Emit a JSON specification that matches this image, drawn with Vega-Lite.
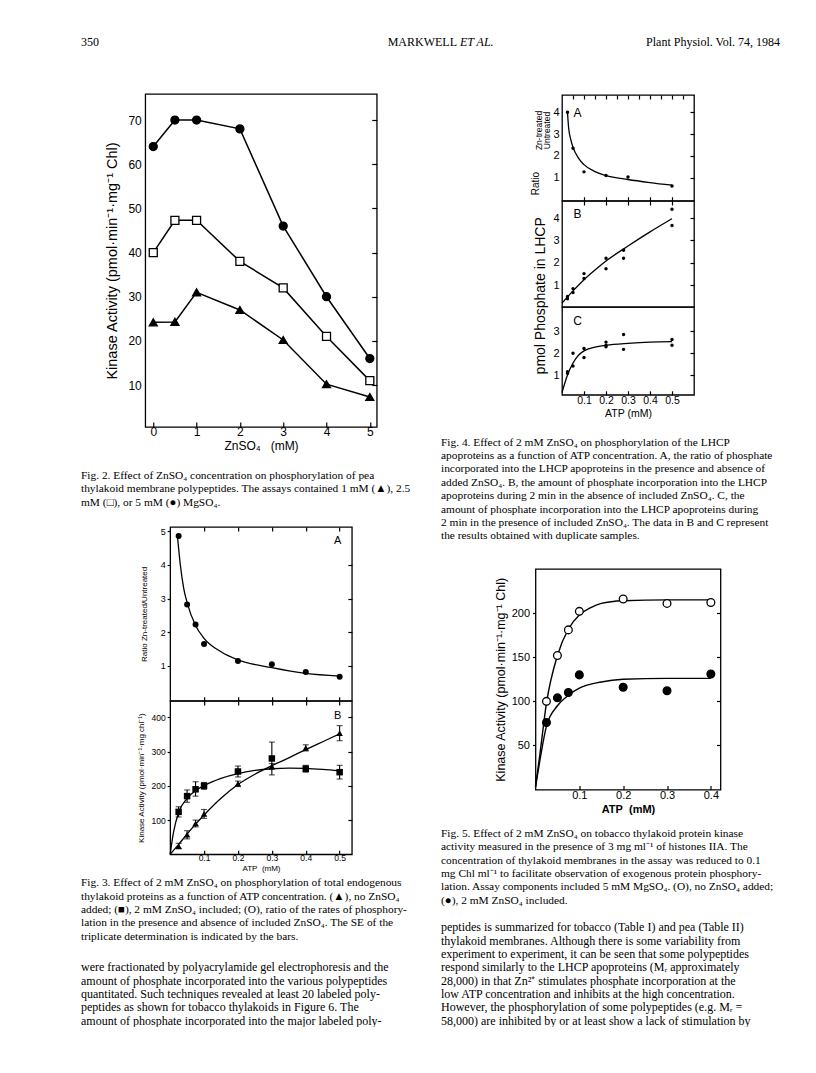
{
  "$schema": "https://vega.github.io/schema/vega-lite/v6.json",
  "background": "white",
  "padding": {"left": 81, "top": 30, "right": 0, "bottom": 0},
  "spacing": 0,
  "datasets": {
    "header": [
      {"part": "l", "label": "350"},
      {"part": "c", "label": "MARKWELL"},
      {"part": "c", "label": "ET AL."},
      {"part": "r", "label": "Plant Physiol. Vol. 74, 1984"}
    ],
    "fig2": [
      {"zn": 0, "act": 64, "mg": "5 mM"}, {"zn": 0.5, "act": 70, "mg": "5 mM"}, {"zn": 1, "act": 70, "mg": "5 mM"}, {"zn": 2, "act": 68, "mg": "5 mM"}, {"zn": 3, "act": 46, "mg": "5 mM"}, {"zn": 4, "act": 30, "mg": "5 mM"}, {"zn": 5, "act": 16, "mg": "5 mM"},
      {"zn": 0, "act": 40, "mg": "2.5 mM"}, {"zn": 0.5, "act": 47.3, "mg": "2.5 mM"}, {"zn": 1, "act": 47.3, "mg": "2.5 mM"}, {"zn": 2, "act": 38, "mg": "2.5 mM"}, {"zn": 3, "act": 32, "mg": "2.5 mM"}, {"zn": 4, "act": 21, "mg": "2.5 mM"}, {"zn": 5, "act": 11, "mg": "2.5 mM"},
      {"zn": 0, "act": 24.2, "mg": "1 mM"}, {"zn": 0.5, "act": 24.3, "mg": "1 mM"}, {"zn": 1, "act": 31, "mg": "1 mM"}, {"zn": 2, "act": 27, "mg": "1 mM"}, {"zn": 3, "act": 20.2, "mg": "1 mM"}, {"zn": 4, "act": 10.2, "mg": "1 mM"}, {"zn": 5, "act": 7.3, "mg": "1 mM"}
    ],
    "fig3a_pts": [
      {"atp": 0.025, "ratio": 4.85}, {"atp": 0.05, "ratio": 2.82}, {"atp": 0.075, "ratio": 2.23}, {"atp": 0.1, "ratio": 1.65},
      {"atp": 0.2, "ratio": 1.15}, {"atp": 0.3, "ratio": 1.05}, {"atp": 0.4, "ratio": 0.82}, {"atp": 0.5, "ratio": 0.68}
    ],
    "fig3a_fit": [
      {"atp": 0.022, "ratio": 4.8}, {"atp": 0.03, "ratio": 4.0}, {"atp": 0.04, "ratio": 3.3}, {"atp": 0.05, "ratio": 2.88},
      {"atp": 0.075, "ratio": 2.2}, {"atp": 0.1, "ratio": 1.82}, {"atp": 0.15, "ratio": 1.42}, {"atp": 0.2, "ratio": 1.18},
      {"atp": 0.3, "ratio": 0.95}, {"atp": 0.4, "ratio": 0.78}, {"atp": 0.5, "ratio": 0.7}
    ],
    "fig3b_pts": [
      {"atp": 0.025, "act": 24, "lo": 16, "hi": 32, "zn": "no ZnSO4"}, {"atp": 0.05, "act": 57, "lo": 45, "hi": 69, "zn": "no ZnSO4"},
      {"atp": 0.075, "act": 90, "lo": 80, "hi": 100, "zn": "no ZnSO4"}, {"atp": 0.1, "act": 118, "lo": 105, "hi": 131, "zn": "no ZnSO4"},
      {"atp": 0.2, "act": 206, "lo": 198, "hi": 214, "zn": "no ZnSO4"}, {"atp": 0.3, "act": 257, "lo": 249, "hi": 265, "zn": "no ZnSO4"},
      {"atp": 0.4, "act": 311, "lo": 302, "hi": 320, "zn": "no ZnSO4"}, {"atp": 0.5, "act": 354, "lo": 332, "hi": 376, "zn": "no ZnSO4"},
      {"atp": 0.025, "act": 124, "lo": 109, "hi": 139, "zn": "2 mM ZnSO4"}, {"atp": 0.05, "act": 170, "lo": 152, "hi": 188, "zn": "2 mM ZnSO4"},
      {"atp": 0.075, "act": 190, "lo": 170, "hi": 212, "zn": "2 mM ZnSO4"}, {"atp": 0.1, "act": 200, "lo": 190, "hi": 210, "zn": "2 mM ZnSO4"},
      {"atp": 0.2, "act": 242, "lo": 226, "hi": 258, "zn": "2 mM ZnSO4"}, {"atp": 0.3, "act": 280, "lo": 232, "hi": 328, "zn": "2 mM ZnSO4"},
      {"atp": 0.4, "act": 250, "lo": 240, "hi": 260, "zn": "2 mM ZnSO4"}, {"atp": 0.5, "act": 240, "lo": 220, "hi": 260, "zn": "2 mM ZnSO4"}
    ],
    "fig3b_fit": [
      {"atp": 0, "act": 0, "zn": "2 mM ZnSO4"}, {"atp": 0.01, "act": 65, "zn": "2 mM ZnSO4"}, {"atp": 0.025, "act": 122, "zn": "2 mM ZnSO4"}, {"atp": 0.05, "act": 163, "zn": "2 mM ZnSO4"},
      {"atp": 0.075, "act": 186, "zn": "2 mM ZnSO4"}, {"atp": 0.1, "act": 201, "zn": "2 mM ZnSO4"}, {"atp": 0.15, "act": 222, "zn": "2 mM ZnSO4"}, {"atp": 0.2, "act": 236, "zn": "2 mM ZnSO4"},
      {"atp": 0.25, "act": 245, "zn": "2 mM ZnSO4"}, {"atp": 0.3, "act": 250, "zn": "2 mM ZnSO4"}, {"atp": 0.35, "act": 252, "zn": "2 mM ZnSO4"}, {"atp": 0.4, "act": 251, "zn": "2 mM ZnSO4"},
      {"atp": 0.45, "act": 248, "zn": "2 mM ZnSO4"}, {"atp": 0.5, "act": 244, "zn": "2 mM ZnSO4"},
      {"atp": 0, "act": 0, "zn": "no ZnSO4"}, {"atp": 0.025, "act": 29, "zn": "no ZnSO4"}, {"atp": 0.05, "act": 59, "zn": "no ZnSO4"}, {"atp": 0.075, "act": 88, "zn": "no ZnSO4"},
      {"atp": 0.1, "act": 115, "zn": "no ZnSO4"}, {"atp": 0.15, "act": 164, "zn": "no ZnSO4"}, {"atp": 0.2, "act": 204, "zn": "no ZnSO4"}, {"atp": 0.25, "act": 234, "zn": "no ZnSO4"},
      {"atp": 0.3, "act": 259, "zn": "no ZnSO4"}, {"atp": 0.35, "act": 282, "zn": "no ZnSO4"}, {"atp": 0.4, "act": 306, "zn": "no ZnSO4"}, {"atp": 0.45, "act": 329, "zn": "no ZnSO4"},
      {"atp": 0.5, "act": 352, "zn": "no ZnSO4"}
    ],
    "fig4a_pts": [
      {"atp": 0.025, "v": 4.0}, {"atp": 0.05, "v": 2.35}, {"atp": 0.1, "v": 1.27}, {"atp": 0.2, "v": 1.1}, {"atp": 0.3, "v": 1.04}, {"atp": 0.5, "v": 0.62}
    ],
    "fig4a_fit": [
      {"atp": 0.025, "v": 4.0}, {"atp": 0.03, "v": 3.3}, {"atp": 0.04, "v": 2.75}, {"atp": 0.05, "v": 2.4}, {"atp": 0.075, "v": 1.9},
      {"atp": 0.1, "v": 1.6}, {"atp": 0.15, "v": 1.28}, {"atp": 0.2, "v": 1.1}, {"atp": 0.3, "v": 0.92}, {"atp": 0.4, "v": 0.78}, {"atp": 0.5, "v": 0.66}
    ],
    "fig4b_pts": [
      {"atp": 0.025, "v": 0.4}, {"atp": 0.025, "v": 0.5}, {"atp": 0.05, "v": 0.85}, {"atp": 0.05, "v": 0.68},
      {"atp": 0.1, "v": 1.52}, {"atp": 0.1, "v": 1.3}, {"atp": 0.2, "v": 2.21}, {"atp": 0.2, "v": 1.74},
      {"atp": 0.28, "v": 2.56}, {"atp": 0.28, "v": 2.21}, {"atp": 0.5, "v": 4.39}, {"atp": 0.5, "v": 3.67}
    ],
    "fig4b_fit": [
      {"atp": 0, "v": 0.2}, {"atp": 0.025, "v": 0.48}, {"atp": 0.05, "v": 0.75}, {"atp": 0.1, "v": 1.25}, {"atp": 0.15, "v": 1.68},
      {"atp": 0.2, "v": 2.08}, {"atp": 0.3, "v": 2.75}, {"atp": 0.4, "v": 3.38}, {"atp": 0.5, "v": 3.97}
    ],
    "fig4c_pts": [
      {"atp": 0.025, "v": 1.15}, {"atp": 0.025, "v": 1.08}, {"atp": 0.05, "v": 1.99}, {"atp": 0.05, "v": 1.41},
      {"atp": 0.1, "v": 2.21}, {"atp": 0.1, "v": 1.8}, {"atp": 0.2, "v": 2.5}, {"atp": 0.2, "v": 2.36}, {"atp": 0.2, "v": 2.29},
      {"atp": 0.28, "v": 2.85}, {"atp": 0.28, "v": 2.17}, {"atp": 0.5, "v": 2.62}, {"atp": 0.5, "v": 2.36}
    ],
    "fig4c_fit": [
      {"atp": 0, "v": 0.2}, {"atp": 0.025, "v": 1.0}, {"atp": 0.05, "v": 1.55}, {"atp": 0.075, "v": 1.9}, {"atp": 0.1, "v": 2.1},
      {"atp": 0.15, "v": 2.27}, {"atp": 0.2, "v": 2.35}, {"atp": 0.3, "v": 2.44}, {"atp": 0.4, "v": 2.5}, {"atp": 0.5, "v": 2.52}
    ],
    "fig5_pts": [
      {"atp": 0.025, "act": 100, "zn": "no ZnSO4"}, {"atp": 0.05, "act": 152, "zn": "no ZnSO4"}, {"atp": 0.075, "act": 181, "zn": "no ZnSO4"}, {"atp": 0.1, "act": 202, "zn": "no ZnSO4"},
      {"atp": 0.2, "act": 216, "zn": "no ZnSO4"}, {"atp": 0.3, "act": 211, "zn": "no ZnSO4"}, {"atp": 0.4, "act": 212, "zn": "no ZnSO4"},
      {"atp": 0.025, "act": 76, "zn": "2 mM ZnSO4"}, {"atp": 0.05, "act": 104, "zn": "2 mM ZnSO4"}, {"atp": 0.075, "act": 110, "zn": "2 mM ZnSO4"}, {"atp": 0.1, "act": 130, "zn": "2 mM ZnSO4"},
      {"atp": 0.2, "act": 116, "zn": "2 mM ZnSO4"}, {"atp": 0.3, "act": 112, "zn": "2 mM ZnSO4"}, {"atp": 0.4, "act": 131, "zn": "2 mM ZnSO4"}
    ],
    "fig5_fit": [
      {"atp": 0, "act": 3, "zn": "no ZnSO4"}, {"atp": 0.01, "act": 40, "zn": "no ZnSO4"}, {"atp": 0.025, "act": 98, "zn": "no ZnSO4"}, {"atp": 0.05, "act": 152, "zn": "no ZnSO4"},
      {"atp": 0.075, "act": 182, "zn": "no ZnSO4"}, {"atp": 0.1, "act": 198, "zn": "no ZnSO4"}, {"atp": 0.125, "act": 206, "zn": "no ZnSO4"}, {"atp": 0.15, "act": 211, "zn": "no ZnSO4"},
      {"atp": 0.2, "act": 214, "zn": "no ZnSO4"}, {"atp": 0.3, "act": 215, "zn": "no ZnSO4"}, {"atp": 0.4, "act": 215, "zn": "no ZnSO4"},
      {"atp": 0, "act": 3, "zn": "2 mM ZnSO4"}, {"atp": 0.01, "act": 33, "zn": "2 mM ZnSO4"}, {"atp": 0.025, "act": 72, "zn": "2 mM ZnSO4"}, {"atp": 0.05, "act": 95, "zn": "2 mM ZnSO4"},
      {"atp": 0.075, "act": 107, "zn": "2 mM ZnSO4"}, {"atp": 0.1, "act": 115, "zn": "2 mM ZnSO4"}, {"atp": 0.15, "act": 122, "zn": "2 mM ZnSO4"}, {"atp": 0.2, "act": 125, "zn": "2 mM ZnSO4"},
      {"atp": 0.3, "act": 126, "zn": "2 mM ZnSO4"}, {"atp": 0.4, "act": 126, "zn": "2 mM ZnSO4"}
    ]
  },
  "vconcat": [
    {
      "width": 699, "height": 24,
      "data": {"name": "header"},
      "encoding": {"x": {"field": "part", "type": "nominal", "scale": {"type": "point", "domain": ["l", "c", "r"], "padding": 0}, "axis": null}},
      "layer": [
        {"transform": [{"filter": "datum.label === '350'"}], "mark": {"type": "text", "align": "left", "baseline": "middle", "font": "Liberation Serif", "fontSize": 12, "color": "black"}, "encoding": {"text": {"field": "label"}}},
        {"transform": [{"filter": "datum.label === 'MARKWELL'"}], "mark": {"type": "text", "align": "right", "baseline": "middle", "font": "Liberation Serif", "fontSize": 12, "dx": 26.5, "color": "black"}, "encoding": {"text": {"field": "label"}}},
        {"transform": [{"filter": "datum.label === 'ET AL.'"}], "mark": {"type": "text", "align": "left", "baseline": "middle", "font": "Liberation Serif", "fontStyle": "italic", "fontSize": 12, "dx": 29.5, "color": "black"}, "encoding": {"text": {"field": "label"}}},
        {"transform": [{"filter": "datum.part === 'r'"}], "mark": {"type": "text", "align": "right", "baseline": "middle", "font": "Liberation Serif", "fontSize": 12, "color": "black"}, "encoding": {"text": {"field": "label"}}}
      ]
    },
    {
      "spacing": 0,
      "hconcat": [
        {
          "spacing": 0,
          "bounds": "flush",
          "center": true,
          "vconcat": [
            {"width": 360, "height": 40, "data": {"values": [{}]}, "mark": {"type": "text", "text": ""}},
            {
              "width": 231.5, "height": 333,
              "view": {"stroke": "black", "strokeWidth": 1.3},
              "data": {"name": "fig2"},
              "layer": [
                {"mark": {"type": "line", "color": "black", "strokeWidth": 1.5},
                 "encoding": {
                   "x": {"field": "zn", "type": "quantitative", "scale": {"domain": [-0.185, 5.16], "nice": false, "zero": false},
                         "axis": {"orient": "bottom", "values": [0, 1, 2, 3, 4, 5], "format": "d", "tickSize": -5, "labelFontSize": 12, "labelPadding": 4, "title": "ZnSO₄\u00a0\u00a0\u00a0(mM)", "titleFontSize": 12, "titlePadding": 3}},
                   "y": {"field": "act", "type": "quantitative", "scale": {"domain": [0.5, 75.9], "nice": false, "zero": false},
                         "axis": {"orient": "left", "values": [10, 20, 30, 40, 50, 60, 70], "tickSize": 0, "labelFontSize": 12, "labelPadding": 4, "title": "Kinase Activity (pmol·min⁻¹·mg⁻¹ Chl)", "titleFontSize": 14.5, "titlePadding": 8}},
                   "detail": {"field": "mg", "type": "nominal"}}},
                {"mark": {"type": "point", "filled": true, "stroke": "black", "strokeWidth": 1.3, "size": 64, "opacity": 1},
                 "encoding": {
                   "x": {"field": "zn", "type": "quantitative", "scale": {"domain": [-0.185, 5.16], "nice": false, "zero": false}, "axis": null},
                   "y": {"field": "act", "type": "quantitative", "scale": {"domain": [0.5, 75.9], "nice": false, "zero": false}, "axis": null},
                   "shape": {"field": "mg", "type": "nominal", "scale": {"domain": ["5 mM", "2.5 mM", "1 mM", "no ZnSO4", "2 mM ZnSO4"], "range": ["circle", "square", "triangle-up", "triangle-up", "square"]}, "legend": null},
                   "fill": {"field": "mg", "type": "nominal", "scale": {"domain": ["5 mM", "2.5 mM", "1 mM", "no ZnSO4", "2 mM ZnSO4"], "range": ["black", "white", "black", "white", "black"]}, "legend": null}}},
                {"mark": {"type": "point", "opacity": 0},
                 "encoding": {
                   "x": {"field": "zn", "type": "quantitative", "scale": {"domain": [-0.185, 5.16], "nice": false, "zero": false}, "axis": null},
                   "y": {"field": "act", "type": "quantitative", "scale": {"domain": [0.5, 75.9], "nice": false, "zero": false},
                         "axis": {"orient": "right", "values": [10, 20, 30, 40, 50, 60, 70], "tickSize": -5, "labels": false, "title": null}}}}
              ],
              "resolve": {"axis": {"x": "independent", "y": "independent"}}
            },
            {
              "width": 360, "height": 39,
              "data": {"values": [{}]}, "mark": {"type": "text", "text": ""},
              "title": {"text": [
                "\u00a0\u00a0\u00a0\u00a0Fig. 2. Effect of ZnSO₄ concentration on phosphorylation of pea",
                "thylakoid membrane polypeptides. The assays contained 1 mM (▲), 2.5",
                "mM (□), or 5 mM (●) MgSO₄."
              ]}
            },
            {"width": 360, "height": 61, "data": {"values": [{}]}, "mark": {"type": "text", "text": ""}},
            {
              "width": 181.7, "height": 173.7,
              "view": {"stroke": "black", "strokeWidth": 1.3},
              "layer": [
                {"data": {"name": "fig3a_fit"},
                 "mark": {"type": "line", "color": "black", "strokeWidth": 1.3, "interpolate": "monotone"},
                 "encoding": {
                   "x": {"field": "atp", "type": "quantitative", "scale": {"domain": [0, 0.536], "nice": false, "zero": false},
                         "axis": {"orient": "bottom", "values": [0.1, 0.2, 0.3, 0.4, 0.5], "tickSize": -4, "labels": false, "title": null}},
                   "y": {"field": "ratio", "type": "quantitative", "scale": {"domain": [-0.03, 5.12], "nice": false, "zero": false},
                         "axis": {"orient": "left", "values": [1, 2, 3, 4, 5], "format": "d", "tickSize": 3, "labelFontSize": 9, "labelPadding": 2, "title": "Ratio Zn-treated/Untreated", "titleFontSize": 8, "titlePadding": 12}}}},
                {"data": {"name": "fig3a_pts"},
                 "mark": {"type": "point", "filled": true, "color": "black", "size": 36, "opacity": 1},
                 "encoding": {
                   "x": {"field": "atp", "type": "quantitative", "scale": {"domain": [0, 0.536], "nice": false, "zero": false}, "axis": null},
                   "y": {"field": "ratio", "type": "quantitative", "scale": {"domain": [-0.03, 5.12], "nice": false, "zero": false}, "axis": null}}},
                {"data": {"name": "fig3a_pts"},
                 "mark": {"type": "point", "opacity": 0},
                 "encoding": {
                   "x": {"field": "atp", "type": "quantitative", "scale": {"domain": [0, 0.536], "nice": false, "zero": false},
                         "axis": {"orient": "top", "values": [0.1, 0.2, 0.3, 0.4, 0.5], "tickSize": -4, "labels": false, "title": "A", "titleFontSize": 11, "titleAngle": 0, "titleX": 167, "titleY": 13, "titleAlign": "center", "titleBaseline": "middle"}},
                   "y": {"field": "ratio", "type": "quantitative", "scale": {"domain": [-0.03, 5.12], "nice": false, "zero": false},
                         "axis": {"orient": "right", "values": [1, 2, 3, 4], "tickSize": -4, "labels": false, "title": null}}}}
              ],
              "resolve": {"axis": {"x": "independent", "y": "independent"}}
            },
            {
              "width": 181.7, "height": 153.3,
              "view": {"stroke": "black", "strokeWidth": 1.3},
              "layer": [
                {"data": {"name": "fig3b_fit"},
                 "mark": {"type": "line", "color": "black", "strokeWidth": 1.3, "interpolate": "monotone"},
                 "encoding": {
                   "detail": {"field": "zn", "type": "nominal"},
                   "x": {"field": "atp", "type": "quantitative", "scale": {"domain": [0, 0.536], "nice": false, "zero": false},
                         "axis": {"orient": "bottom", "values": [0.1, 0.2, 0.3, 0.4, 0.5], "format": ".1f", "tickSize": -4, "labelFontSize": 8.5, "labelPadding": 3.5, "title": "ATP\u00a0\u00a0(mM)", "titleFontSize": 8, "titlePadding": 2}},
                   "y": {"field": "act", "type": "quantitative", "scale": {"domain": [0, 448], "nice": false, "zero": false},
                         "axis": {"orient": "left", "values": [100, 200, 300, 400], "tickSize": 3, "labelFontSize": 8.5, "labelPadding": 2, "title": "Kinase Activity (pmol·min⁻¹·mg chl⁻¹)", "titleFontSize": 8, "titlePadding": 5}}}},
                {"data": {"name": "fig3b_pts"},
                 "mark": {"type": "rule", "color": "black", "strokeWidth": 1.1},
                 "encoding": {
                   "x": {"field": "atp", "type": "quantitative", "scale": {"domain": [0, 0.536], "nice": false, "zero": false}, "axis": null},
                   "y": {"field": "lo", "type": "quantitative", "scale": {"domain": [0, 448], "nice": false, "zero": false}, "axis": null},
                   "y2": {"field": "hi"}}},
                {"data": {"name": "fig3b_pts"},
                 "mark": {"type": "tick", "orient": "horizontal", "color": "black", "size": 6, "thickness": 1.1},
                 "encoding": {
                   "x": {"field": "atp", "type": "quantitative", "scale": {"domain": [0, 0.536], "nice": false, "zero": false}, "axis": null},
                   "y": {"field": "hi", "type": "quantitative", "scale": {"domain": [0, 448], "nice": false, "zero": false}, "axis": null}}},
                {"data": {"name": "fig3b_pts"},
                 "mark": {"type": "tick", "orient": "horizontal", "color": "black", "size": 6, "thickness": 1.1},
                 "encoding": {
                   "x": {"field": "atp", "type": "quantitative", "scale": {"domain": [0, 0.536], "nice": false, "zero": false}, "axis": null},
                   "y": {"field": "lo", "type": "quantitative", "scale": {"domain": [0, 448], "nice": false, "zero": false}, "axis": null}}},
                {"data": {"name": "fig3b_pts"},
                 "mark": {"type": "point", "filled": true, "color": "black", "size": 42, "opacity": 1},
                 "encoding": {
                   "x": {"field": "atp", "type": "quantitative", "scale": {"domain": [0, 0.536], "nice": false, "zero": false}, "axis": null},
                   "y": {"field": "act", "type": "quantitative", "scale": {"domain": [0, 448], "nice": false, "zero": false}, "axis": null},
                   "shape": {"field": "zn", "type": "nominal", "scale": {"domain": ["5 mM", "2.5 mM", "1 mM", "no ZnSO4", "2 mM ZnSO4"], "range": ["circle", "square", "triangle-up", "triangle-up", "square"]}, "legend": null}}},
                {"data": {"name": "fig3b_pts"},
                 "mark": {"type": "point", "opacity": 0},
                 "encoding": {
                   "x": {"field": "atp", "type": "quantitative", "scale": {"domain": [0, 0.536], "nice": false, "zero": false},
                         "axis": {"orient": "top", "values": [0.1, 0.2, 0.3, 0.4, 0.5], "tickSize": -4, "labels": false, "title": "B", "titleFontSize": 11, "titleAngle": 0, "titleX": 167, "titleY": 14, "titleAlign": "center", "titleBaseline": "middle"}},
                   "y": {"field": "act", "type": "quantitative", "scale": {"domain": [0, 448], "nice": false, "zero": false},
                         "axis": {"orient": "right", "values": [100, 200, 300, 400], "tickSize": -4, "labels": false, "title": null}}}}
              ],
              "resolve": {"axis": {"x": "independent", "y": "independent"}}
            },
            {
              "width": 360, "height": 18.3,
              "data": {"values": [{}]}, "mark": {"type": "text", "text": ""},
              "title": {"text": [
                "\u00a0\u00a0\u00a0\u00a0Fig. 3. Effect of 2 mM ZnSO₄ on phosphorylation of total endogenous",
                "thylakoid proteins as a function of ATP concentration. (▲), no ZnSO₄",
                "added; (■), 2 mM ZnSO₄ included; (O), ratio of the rates of phosphory-",
                "lation in the presence and absence of included ZnSO₄. The SE of the",
                "triplicate determination is indicated by the bars."
              ]}
            },
            {
              "width": 360, "height": 84.4,
              "data": {"values": [{}]}, "mark": {"type": "text", "text": ""},
              "title": {"fontSize": 12, "text": [
                "were fractionated by polyacrylamide gel electrophoresis and the",
                "amount of phosphate incorporated into the various polypeptides",
                "quantitated. Such techniques revealed at least 20 labeled poly-",
                "peptides as shown for tobacco thylakoids in Figure 6. The",
                "amount of phosphate incorporated into the major labeled poly-"
              ]}
            }
          ]
        },
        {
          "spacing": 0,
          "bounds": "flush",
          "center": true,
          "vconcat": [
            {"width": 374, "height": 41, "data": {"values": [{}]}, "mark": {"type": "text", "text": ""}},
            {
              "width": 132, "height": 105.7,
              "view": {"stroke": "black", "strokeWidth": 1.3},
              "layer": [
                {"data": {"name": "fig4a_fit"},
                 "mark": {"type": "line", "color": "black", "strokeWidth": 1.3, "interpolate": "monotone"},
                 "encoding": {
                   "x": {"field": "atp", "type": "quantitative", "scale": {"domain": [0, 0.6], "nice": false, "zero": false},
                         "axis": {"orient": "bottom", "values": [0.1, 0.2, 0.3, 0.4, 0.5], "tickSize": -4, "labels": false, "title": null}},
                   "y": {"field": "v", "type": "quantitative", "scale": {"domain": [-0.05, 4.79], "nice": false, "zero": false},
                         "axis": {"orient": "left", "values": [1, 2, 3, 4], "format": "d", "tickSize": 0, "labelFontSize": 11, "labelPadding": 3,
                                  "title": ["Zn-treated", "Untreated"],
                                  "titleFontSize": 8.5, "titleLineHeight": 8, "titlePadding": 1.5, "titleY": 35}}}},
                {"data": {"name": "fig4a_pts"},
                 "mark": {"type": "point", "filled": true, "color": "black", "size": 12, "opacity": 1},
                 "encoding": {
                   "x": {"field": "atp", "type": "quantitative", "scale": {"domain": [0, 0.6], "nice": false, "zero": false}, "axis": null},
                   "y": {"field": "v", "type": "quantitative", "scale": {"domain": [-0.05, 4.79], "nice": false, "zero": false}, "axis": null}}},
                {"data": {"name": "fig4a_pts"},
                 "mark": {"type": "point", "opacity": 0},
                 "encoding": {
                   "x": {"field": "atp", "type": "quantitative", "scale": {"domain": [0, 0.6], "nice": false, "zero": false},
                         "axis": {"orient": "top", "values": [0.05, 0.1, 0.15, 0.2, 0.25, 0.3, 0.35, 0.4, 0.45, 0.5, 0.55], "tickSize": -4, "labels": false, "title": "A", "titleFontSize": 12, "titleAngle": 0, "titleX": 15, "titleY": 17, "titleAlign": "center", "titleBaseline": "middle"}},
                   "y": {"field": "v", "type": "quantitative", "scale": {"domain": [-0.05, 4.79], "nice": false, "zero": false},
                         "axis": {"orient": "right", "values": [1, 2, 3, 4], "tickSize": -4, "labels": false,
                                  "title": "Ratio", "titleFontSize": 10, "titleAngle": 270, "titleX": -158.3, "titleY": 88, "titleAlign": "center", "titleBaseline": "middle"}}}}
              ],
              "resolve": {"axis": {"x": "independent", "y": "independent"}}
            },
            {
              "width": 132, "height": 106,
              "view": {"stroke": "black", "strokeWidth": 1.3},
              "layer": [
                {"data": {"name": "fig4b_fit"},
                 "mark": {"type": "line", "color": "black", "strokeWidth": 1.3, "interpolate": "monotone"},
                 "encoding": {
                   "x": {"field": "atp", "type": "quantitative", "scale": {"domain": [0, 0.6], "nice": false, "zero": false}, "axis": null},
                   "y": {"field": "v", "type": "quantitative", "scale": {"domain": [0.03, 4.76], "nice": false, "zero": false},
                         "axis": {"orient": "left", "values": [1, 2, 3, 4], "format": "d", "tickSize": 0, "labelFontSize": 11, "labelPadding": 3,
                                  "title": "pmol Phosphate in LHCP", "titleFontSize": 14, "titlePadding": 5, "titleY": 94.3}}}},
                {"data": {"name": "fig4b_pts"},
                 "mark": {"type": "point", "filled": true, "color": "black", "size": 12, "opacity": 1},
                 "encoding": {
                   "x": {"field": "atp", "type": "quantitative", "scale": {"domain": [0, 0.6], "nice": false, "zero": false}, "axis": null},
                   "y": {"field": "v", "type": "quantitative", "scale": {"domain": [0.03, 4.76], "nice": false, "zero": false}, "axis": null}}},
                {"data": {"name": "fig4b_pts"},
                 "mark": {"type": "point", "opacity": 0},
                 "encoding": {
                   "x": {"field": "atp", "type": "quantitative", "scale": {"domain": [0, 0.6], "nice": false, "zero": false},
                         "axis": {"orient": "top", "values": [0.1, 0.2, 0.3, 0.4, 0.5], "tickSize": -4, "labels": false, "title": "B", "titleFontSize": 12, "titleAngle": 0, "titleX": 15, "titleY": 12.6, "titleAlign": "center", "titleBaseline": "middle"}},
                   "y": {"field": "v", "type": "quantitative", "scale": {"domain": [0.03, 4.76], "nice": false, "zero": false},
                         "axis": {"orient": "right", "values": [1, 2, 3, 4], "tickSize": -4, "labels": false, "title": null}}}}
              ],
              "resolve": {"axis": {"x": "independent", "y": "independent"}}
            },
            {
              "width": 132, "height": 87.8,
              "view": {"stroke": "black", "strokeWidth": 1.3},
              "layer": [
                {"data": {"name": "fig4c_fit"},
                 "mark": {"type": "line", "color": "black", "strokeWidth": 1.3, "interpolate": "monotone"},
                 "encoding": {
                   "x": {"field": "atp", "type": "quantitative", "scale": {"domain": [0, 0.6], "nice": false, "zero": false},
                         "axis": {"orient": "bottom", "values": [0.1, 0.2, 0.3, 0.4, 0.5], "format": ".1f", "tickSize": -4, "labelFontSize": 10.5, "labelPadding": 5, "title": "ATP (mM)", "titleFontSize": 10.5, "titlePadding": 2}},
                   "y": {"field": "v", "type": "quantitative", "scale": {"domain": [0.1, 4.1], "nice": false, "zero": false},
                         "axis": {"orient": "left", "values": [1, 2, 3], "format": "d", "tickSize": 0, "labelFontSize": 11, "labelPadding": 3, "title": null}}}},
                {"data": {"name": "fig4c_pts"},
                 "mark": {"type": "point", "filled": true, "color": "black", "size": 12, "opacity": 1},
                 "encoding": {
                   "x": {"field": "atp", "type": "quantitative", "scale": {"domain": [0, 0.6], "nice": false, "zero": false}, "axis": null},
                   "y": {"field": "v", "type": "quantitative", "scale": {"domain": [0.1, 4.1], "nice": false, "zero": false}, "axis": null}}},
                {"data": {"name": "fig4c_pts"},
                 "mark": {"type": "point", "opacity": 0},
                 "encoding": {
                   "x": {"field": "atp", "type": "quantitative", "scale": {"domain": [0, 0.6], "nice": false, "zero": false},
                         "axis": {"orient": "top", "ticks": false, "labels": false, "title": "C", "titleFontSize": 12, "titleAngle": 0, "titleX": 15, "titleY": 13.3, "titleAlign": "center", "titleBaseline": "middle"}},
                   "y": {"field": "v", "type": "quantitative", "scale": {"domain": [0.1, 4.1], "nice": false, "zero": false},
                         "axis": {"orient": "right", "values": [1, 2, 3], "tickSize": -4, "labels": false, "title": null}}}}
              ],
              "resolve": {"axis": {"x": "independent", "y": "independent"}}
            },
            {
              "width": 374, "height": 37.8,
              "data": {"values": [{}]}, "mark": {"type": "text", "text": ""},
              "title": {"text": [
                "\u00a0\u00a0\u00a0\u00a0Fig. 4. Effect of 2 mM ZnSO₄ on phosphorylation of the LHCP",
                "apoproteins as a function of ATP concentration. A, the ratio of phosphate",
                "incorporated into the LHCP apoproteins in the presence and absence of",
                "added ZnSO₄. B, the amount of phosphate incorporation into the LHCP",
                "apoproteins during 2 min in the absence of included ZnSO₄. C, the",
                "amount of phosphate incorporation into the LHCP apoproteins during",
                "2 min in the presence of included ZnSO₄. The data in B and C represent",
                "the results obtained with duplicate samples."
              ]}
            },
            {"width": 374, "height": 135.4, "data": {"values": [{}]}, "mark": {"type": "text", "text": ""}},
            {
              "width": 185, "height": 220.6,
              "view": {"stroke": "black", "strokeWidth": 1.3},
              "layer": [
                {"data": {"name": "fig5_fit"},
                 "mark": {"type": "line", "color": "black", "strokeWidth": 1.4, "interpolate": "monotone"},
                 "encoding": {
                   "detail": {"field": "zn", "type": "nominal"},
                   "x": {"field": "atp", "type": "quantitative", "scale": {"domain": [0, 0.422], "nice": false, "zero": false},
                         "axis": {"orient": "bottom", "values": [0.1, 0.2, 0.3, 0.4], "format": ".1f", "tickSize": -4, "labelFontSize": 11, "labelPadding": 4, "title": "ATP\u00a0\u00a0(mM)", "titleFontSize": 11, "titleFontWeight": "bold", "titlePadding": 2.5}},
                   "y": {"field": "act", "type": "quantitative", "scale": {"domain": [0, 250], "nice": false, "zero": false},
                         "axis": {"orient": "left", "values": [50, 100, 150, 200], "tickSize": 3, "labelFontSize": 11, "labelPadding": 3, "title": "Kinase Activity (pmol·min⁻¹·mg⁻¹ Chl)", "titleFontSize": 12.5, "titlePadding": 4}}}},
                {"data": {"name": "fig5_pts"},
                 "mark": {"type": "point", "filled": true, "stroke": "black", "strokeWidth": 1.3, "size": 60, "opacity": 1},
                 "encoding": {
                   "x": {"field": "atp", "type": "quantitative", "scale": {"domain": [0, 0.422], "nice": false, "zero": false}, "axis": null},
                   "y": {"field": "act", "type": "quantitative", "scale": {"domain": [0, 250], "nice": false, "zero": false}, "axis": null},
                   "fill": {"field": "zn", "type": "nominal", "scale": {"domain": ["5 mM", "2.5 mM", "1 mM", "no ZnSO4", "2 mM ZnSO4"], "range": ["black", "white", "black", "white", "black"]}, "legend": null}}},
                {"data": {"name": "fig5_pts"},
                 "mark": {"type": "point", "opacity": 0},
                 "encoding": {
                   "x": {"field": "atp", "type": "quantitative", "scale": {"domain": [0, 0.422], "nice": false, "zero": false}, "axis": null},
                   "y": {"field": "act", "type": "quantitative", "scale": {"domain": [0, 250], "nice": false, "zero": false},
                         "axis": {"orient": "right", "values": [50, 100, 150, 200], "tickSize": -4, "labels": false, "title": null}}}}
              ],
              "resolve": {"axis": {"x": "independent", "y": "independent"}}
            },
            {
              "width": 374, "height": 34,
              "data": {"values": [{}]}, "mark": {"type": "text", "text": ""},
              "title": {"text": [
                "\u00a0\u00a0\u00a0\u00a0Fig. 5. Effect of 2 mM ZnSO₄ on tobacco thylakoid protein kinase",
                "activity measured in the presence of 3 mg ml⁻¹ of histones IIA. The",
                "concentration of thylakoid membranes in the assay was reduced to 0.1",
                "mg Chl ml⁻¹ to facilitate observation of exogenous protein phosphory-",
                "lation. Assay components included 5 mM MgSO₄. (O), no ZnSO₄ added;",
                "(●), 2 mM ZnSO₄ included."
              ]}
            },
            {
              "width": 374, "height": 94.2,
              "data": {"values": [{}]}, "mark": {"type": "text", "text": ""},
              "title": {"fontSize": 12, "text": [
                "peptides is summarized for tobacco (Table I) and pea (Table II)",
                "thylakoid membranes. Although there is some variability from",
                "experiment to experiment, it can be seen that some polypeptides",
                "respond similarly to the LHCP apoproteins (Mᵣ approximately",
                "28,000) in that Zn²⁺ stimulates phosphate incorporation at the",
                "low ATP concentration and inhibits at the high concentration.",
                "However, the phosphorylation of some polypeptides (e.g. Mᵣ =",
                "58,000) are inhibited by or at least show a lack of stimulation by"
              ]}
            }
          ]
        }
      ]
    }
  ],
  "config": {
    "view": {"stroke": null},
    "font": "Liberation Sans",
    "axis": {"domain": false, "grid": false, "tickColor": "black", "tickWidth": 1.2, "labelColor": "black", "titleColor": "black", "labelFont": "Liberation Sans", "titleFont": "Liberation Sans", "titleFontWeight": "normal"},
    "title": {"font": "Liberation Serif", "fontSize": 11.4, "fontWeight": "normal", "color": "black", "anchor": "start", "frame": "group", "orient": "bottom", "offset": 0, "baseline": "top", "lineHeight": 13.35}
  }
}
